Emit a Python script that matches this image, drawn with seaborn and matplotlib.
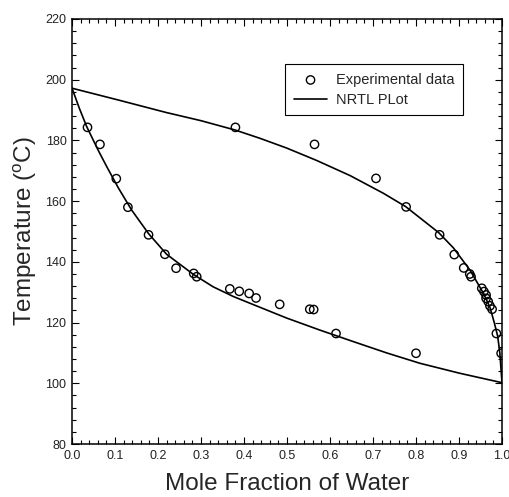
import matplotlib
matplotlib.use("Agg")
import matplotlib.pyplot as plt
import seaborn as sns
import pandas as pd
from matplotlib.ticker import MultipleLocator, FormatStrFormatter

# Experimental data: liquid branch (bubble) and vapour branch (dew)
x_liq = [0.036, 0.065, 0.103, 0.130, 0.178, 0.216, 0.242, 0.283, 0.290,
         0.367, 0.389, 0.412, 0.428, 0.483, 0.553, 0.562, 0.614, 0.800]
T_liq = [184.3, 178.7, 167.4, 158.0, 148.9, 142.5, 137.9, 136.2, 135.1,
         131.1, 130.3, 129.6, 128.1, 126.0, 124.4, 124.3, 116.4, 109.9]
x_vap = [0.380, 0.564, 0.707, 0.777, 0.855, 0.889, 0.911, 0.925, 0.928,
         0.953, 0.958, 0.963, 0.963, 0.968, 0.972, 0.977, 0.987, 0.998]
T_vap = [184.3, 178.7, 167.5, 158.1, 148.9, 142.4, 138.0, 136.0, 135.1,
         131.3, 130.2, 129.1, 128.0, 126.9, 125.5, 124.4, 116.4, 109.9]

# NRTL model curves
bub_x = [0.0, 0.017, 0.034, 0.060, 0.081, 0.108, 0.139, 0.178, 0.220, 0.282,
         0.328, 0.375, 0.422, 0.499, 0.577, 0.655, 0.732, 0.809, 0.902, 1.0]
bub_T = [197.2, 190.6, 184.6, 177.0, 171.3, 164.3, 157.0, 149.3, 142.5, 135.9,
         131.8, 128.6, 125.9, 121.5, 117.5, 113.7, 110.0, 106.6, 103.3, 100.2]
dew_x = [0.0, 0.108, 0.219, 0.300, 0.380, 0.437, 0.499, 0.569, 0.647, 0.724,
         0.776, 0.853, 0.887, 0.926, 0.957, 0.972, 0.982, 0.990, 0.995, 1.0]
dew_T = [197.2, 193.3, 189.2, 186.5, 183.4, 180.7, 177.5, 173.4, 168.4, 162.6,
         158.2, 149.6, 144.6, 137.2, 129.6, 125.0, 120.0, 115.5, 110.0, 100.2]

x_ticks = [0.0, 0.1, 0.2, 0.3, 0.4, 0.5, 0.6, 0.7, 0.8, 0.9, 1.0]
y_ticks = [80, 100, 120, 140, 160, 180, 200, 220]

sns.set_style("ticks")
plt.rcParams['font.family'] = ['Liberation Sans', 'DejaVu Sans']
plt.rcParams['mathtext.default'] = 'regular'

fig = plt.figure(figsize=(5.10, 4.97), dpi=100)
ax = fig.add_axes([0.1412, 0.1066, 0.8431, 0.8552])

exp = pd.DataFrame({'x': x_liq + x_vap, 'T': T_liq + T_vap})
bub = pd.DataFrame({'x': bub_x, 'T': bub_T})
dew = pd.DataFrame({'x': dew_x, 'T': dew_T})

sns.lineplot(data=bub, x='x', y='T', sort=False, estimator=None,
             color='black', linewidth=1.2, ax=ax, label='NRTL PLot')
sns.lineplot(data=dew, x='x', y='T', sort=False, estimator=None,
             color='black', linewidth=1.2, ax=ax)
sns.scatterplot(data=exp, x='x', y='T', marker='o', s=36,
                facecolors='none', edgecolor='black', linewidth=1.0,
                ax=ax, label='Experimental data', zorder=3)

ax.set_xlim(0, 1)
ax.set_ylim(80, 220)
ax.set_xticks(x_ticks)
ax.set_yticks(y_ticks)
ax.xaxis.set_major_formatter(FormatStrFormatter('%.1f'))
ax.xaxis.set_minor_locator(MultipleLocator(0.02))
ax.yaxis.set_minor_locator(MultipleLocator(4))
ax.tick_params(which='both', direction='in', top=True, right=True,
               color='black', width=0.8, labelsize=9, labelcolor='#222222')
ax.tick_params(which='major', length=5, pad=4)
ax.tick_params(which='minor', length=3)
for sp in ax.spines.values():
    sp.set_visible(True)
    sp.set_color('black')
    sp.set_linewidth(1.1)

ax.set_xlabel('Mole Fraction of Water', fontsize=17.5, labelpad=8.5)
ax.set_ylabel('Temperature ($^{o}$C)', fontsize=17.5, labelpad=5)

handles, labels = ax.get_legend_handles_labels()
order = [labels.index('Experimental data'), labels.index('NRTL PLot')]
leg = ax.legend([handles[i] for i in order], [labels[i] for i in order],
                loc='upper right', bbox_to_anchor=(0.910, 0.894),
                frameon=True, fancybox=False, edgecolor='black', framealpha=1,
                fontsize=10.5, handlelength=2.3, handletextpad=0.6,
                labelspacing=0.4, borderpad=0.6, borderaxespad=0,
                scatterpoints=1)
leg.get_frame().set_linewidth(0.8)

fig.savefig('out.png', dpi=100)
